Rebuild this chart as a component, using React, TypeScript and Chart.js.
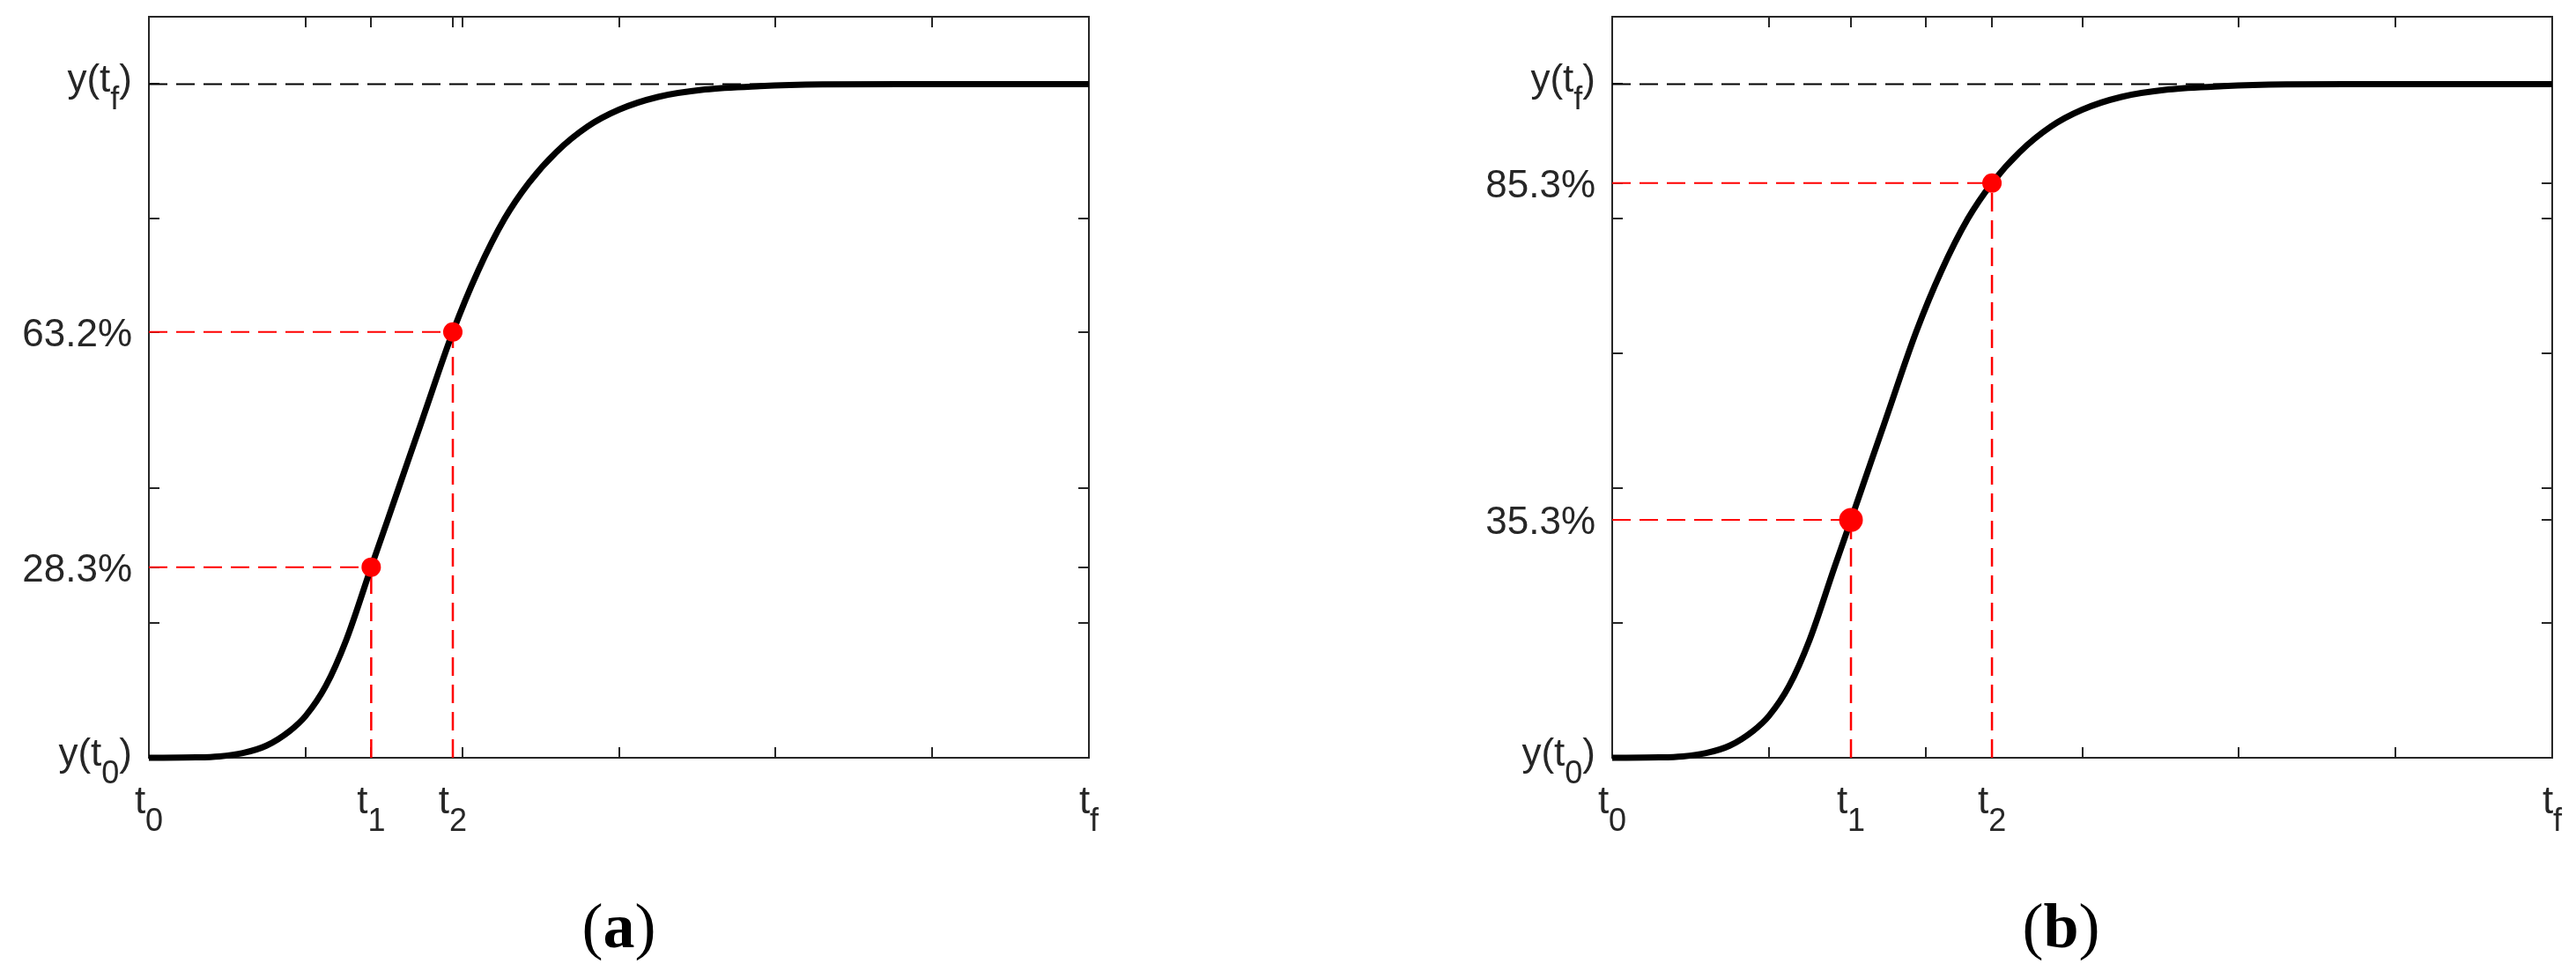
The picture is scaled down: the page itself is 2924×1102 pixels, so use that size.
import React, { useEffect, useRef } from "react";
import { Chart, registerables } from "chart.js";

Chart.register(...registerables);

// ---------- data ----------
const curveT = [0, 0.3, 0.45, 0.6, 0.75, 0.9, 1.0, 1.13, 1.26, 1.419, 1.524, 1.65, 1.75, 1.94, 2.1, 2.27, 2.424, 2.6, 2.8, 3.0, 3.25, 3.55, 3.9, 4.3, 4.8, 6.0];
const curveY = [0, 0.0005, 0.002, 0.007, 0.018, 0.04, 0.062, 0.107, 0.175, 0.283, 0.353, 0.438, 0.505, 0.632, 0.722, 0.8, 0.853, 0.899, 0.937, 0.962, 0.981, 0.992, 0.997, 0.9995, 1.0, 1.0];

const finalValue = 1.0;

// panel (a): 28.3% / 63.2%
const markTA = [1.419, 1.94];
const markYA = [0.283, 0.632];
const markRA = [11, 11];
const xTicksA = [0, 1, 1.419, 1.94, 2, 3, 4, 5, 6];
const xTickLabelsA = ["t_0", "", "t_1", "t_2", "", "", "", "", "t_f"];
const yTicksA = [0, 0.2, 0.283, 0.4, 0.632, 0.8, 1];
const yTickLabelsA = ["y(t_0)", "", "28.3%", "", "63.2%", "", "y(t_f)"];

// panel (b): 35.3% / 85.3%
const markTB = [1.524, 2.424];
const markYB = [0.353, 0.853];
const markRB = [13.5, 11];
const xTicksB = [0, 1, 1.524, 2, 2.424, 3, 4, 5, 6];
const xTickLabelsB = ["t_0", "", "t_1", "", "t_2", "", "", "", "t_f"];
const yTicksB = [0, 0.2, 0.353, 0.4, 0.6, 0.8, 0.853, 1];
const yTickLabelsB = ["y(t_0)", "", "35.3%", "", "", "", "85.3%", "y(t_f)"];

const captions = ["a", "b"];

// ---------- styles ----------
const X_MIN = 0, X_MAX = 6, Y_MIN = 0, Y_MAX = 1.1;
const AXIS_COLOR = "#262626";
const MAIN_FONT = "44px 'Liberation Sans', Arial, sans-serif";
const SUB_FONT = "36px 'Liberation Sans', Arial, sans-serif";
const SUB_DROP = 20;
const TICK_LEN = 12;
const CANVAS_W = 1462, CANVAS_H = 1102;

type Seg = { t: string; sub: boolean };
function parseLabel(s: string): Seg[] {
  const segs: Seg[] = [];
  let buf = "";
  let i = 0;
  while (i < s.length) {
    if (s[i] === "_" && i + 1 < s.length) {
      if (buf) segs.push({ t: buf, sub: false });
      buf = "";
      segs.push({ t: s[i + 1], sub: true });
      i += 2;
    } else {
      buf += s[i];
      i++;
    }
  }
  if (buf) segs.push({ t: buf, sub: false });
  return segs;
}

function drawLabel(ctx: CanvasRenderingContext2D, s: string, x: number, baseline: number, align: "center" | "right") {
  const segs = parseLabel(s);
  const widths = segs.map((sg) => {
    ctx.font = sg.sub ? SUB_FONT : MAIN_FONT;
    return ctx.measureText(sg.t).width;
  });
  const total = widths.reduce((a, b) => a + b, 0);
  let cx = align === "center" ? x - total / 2 : x - total;
  segs.forEach((sg, k) => {
    ctx.font = sg.sub ? SUB_FONT : MAIN_FONT;
    ctx.fillText(sg.t, cx, sg.sub ? baseline + SUB_DROP : baseline);
    cx += widths[k];
  });
}

type Panel = {
  markT: number[];
  markY: number[];
  markR: number[];
  xTicks: number[];
  xTickLabels: string[];
  yTicks: number[];
  yTickLabels: string[];
  caption: string;
  captionShift: number;
  padding: { left: number; right: number; top: number; bottom: number };
  offsetX: number;
};

function framePlugin(p: Panel) {
  return {
    id: "frameTicks",
    beforeDatasetsDraw(chart: any) {
      const ctx: CanvasRenderingContext2D = chart.ctx;
      const { left, right, top, bottom } = chart.chartArea;
      const xs = chart.scales.x;
      const ys = chart.scales.y;
      ctx.save();
      ctx.strokeStyle = AXIS_COLOR;
      ctx.lineWidth = 2;
      ctx.setLineDash([]);
      ctx.strokeRect(left, top, right - left, bottom - top);
      ctx.beginPath();
      p.xTicks.forEach((v) => {
        const x = Math.round(xs.getPixelForValue(v));
        ctx.moveTo(x, bottom);
        ctx.lineTo(x, bottom - TICK_LEN);
        ctx.moveTo(x, top);
        ctx.lineTo(x, top + TICK_LEN);
      });
      p.yTicks.forEach((v) => {
        const y = Math.round(ys.getPixelForValue(v));
        ctx.moveTo(left, y);
        ctx.lineTo(left + TICK_LEN, y);
        ctx.moveTo(right, y);
        ctx.lineTo(right - TICK_LEN, y);
      });
      ctx.stroke();

      ctx.fillStyle = AXIS_COLOR;
      ctx.textAlign = "left";
      ctx.textBaseline = "alphabetic";
      p.xTicks.forEach((v, i) => {
        const lab = p.xTickLabels[i];
        if (!lab) return;
        const x = xs.getPixelForValue(v);
        drawLabel(ctx, lab, x, bottom + 63, "center");
      });
      p.yTicks.forEach((v, i) => {
        const lab = p.yTickLabels[i];
        if (!lab) return;
        const y = ys.getPixelForValue(v);
        const hasSub = lab.indexOf("_") >= 0;
        drawLabel(ctx, lab, left - 19, y + (hasSub ? 9 : 16), "right");
      });

      // caption "(a)" / "(b)"
      const cx = (left + right) / 2 + p.captionShift;
      const fontN = "72px 'Liberation Serif', 'Times New Roman', serif";
      const fontB = "bold 72px 'Liberation Serif', 'Times New Roman', serif";
      ctx.fillStyle = "#000";
      ctx.font = fontN;
      const wp = ctx.measureText("(").width;
      const wq = ctx.measureText(")").width;
      ctx.font = fontB;
      const wa = ctx.measureText(p.caption).width;
      let sx = cx - (wp + wa + wq) / 2;
      const by = 1075;
      ctx.font = fontN;
      ctx.fillText("(", sx, by);
      sx += wp;
      ctx.font = fontB;
      ctx.fillText(p.caption, sx, by);
      sx += wa;
      ctx.font = fontN;
      ctx.fillText(")", sx, by);
      ctx.restore();
    },
  };
}

function buildConfig(p: Panel): any {
  const curve = curveT.map((t, i) => ({ x: t, y: curveY[i] }));
  const marks = p.markT.map((t, i) => ({ x: t, y: p.markY[i] }));
  const guides: any[] = [];
  p.markT.forEach((t, i) => {
    guides.push({
      label: "h" + i,
      data: [{ x: X_MIN, y: p.markY[i] }, { x: t, y: p.markY[i] }],
      borderColor: "#ff0000",
      borderWidth: 2,
      borderDash: [21, 10],
      pointRadius: 0,
      order: 3,
    });
    guides.push({
      label: "v" + i,
      data: [{ x: t, y: Y_MIN }, { x: t, y: p.markY[i] }],
      borderColor: "#ff0000",
      borderWidth: 2.5,
      borderDash: [21, 10],
      pointRadius: 0,
      order: 3,
    });
  });
  return {
    type: "line",
    data: {
      datasets: [
        {
          label: "marks",
          data: marks,
          showLine: false,
          pointRadius: p.markR,
          pointHoverRadius: p.markR,
          pointBackgroundColor: "#ff0000",
          pointBorderColor: "#ff0000",
          pointBorderWidth: 0,
          order: 0,
        },
        {
          label: "response",
          data: curve,
          borderColor: "#000000",
          borderWidth: 7,
          pointRadius: 0,
          cubicInterpolationMode: "monotone",
          order: 1,
        },
        {
          label: "final",
          data: [{ x: X_MIN, y: finalValue }, { x: X_MAX, y: finalValue }],
          borderColor: "#000000",
          borderWidth: 2,
          borderDash: [21, 10],
          pointRadius: 0,
          order: 2,
        },
        ...guides,
      ],
    },
    options: {
      responsive: false,
      animation: false,
      events: [],
      clip: false,
      layout: { padding: p.padding },
      plugins: { legend: { display: false }, tooltip: { enabled: false }, title: { display: false } },
      scales: {
        x: { type: "linear", min: X_MIN, max: X_MAX, display: false },
        y: { type: "linear", min: Y_MIN, max: Y_MAX, display: false },
      },
    },
    plugins: [framePlugin(p)],
  };
}

const panels: Panel[] = [
  {
    markT: markTA, markY: markYA, markR: markRA,
    xTicks: xTicksA, xTickLabels: xTickLabelsA,
    yTicks: yTicksA, yTickLabels: yTickLabelsA,
    caption: captions[0], captionShift: 0,
    padding: { left: 169, right: CANVAS_W - 1236, top: 19, bottom: CANVAS_H - 860 },
    offsetX: 0,
  },
  {
    markT: markTB, markY: markYB, markR: markRB,
    xTicks: xTicksB, xTickLabels: xTickLabelsB,
    yTicks: yTicksB, yTickLabels: yTickLabelsB,
    caption: captions[1], captionShift: -24,
    padding: { left: 1830 - CANVAS_W, right: CANVAS_W - (2897 - CANVAS_W), top: 19, bottom: CANVAS_H - 860 },
    offsetX: CANVAS_W,
  },
];

function PanelChart({ panel }: { panel: Panel }) {
  const ref = useRef<HTMLCanvasElement | null>(null);
  useEffect(() => {
    if (!ref.current) return;
    const chart = new Chart(ref.current, buildConfig(panel));
    return () => chart.destroy();
  }, [panel]);
  return (
    <canvas
      ref={ref}
      width={CANVAS_W}
      height={CANVAS_H}
      style={{ position: "absolute", left: panel.offsetX, top: 0, width: CANVAS_W, height: CANVAS_H }}
    />
  );
}

export default function App() {
  return (
    <div style={{ position: "absolute", left: 0, top: 0, width: 2924, height: 1102, background: "#fff", overflow: "hidden" }}>
      {panels.map((p, i) => (
        <PanelChart key={i} panel={p} />
      ))}
    </div>
  );
}
